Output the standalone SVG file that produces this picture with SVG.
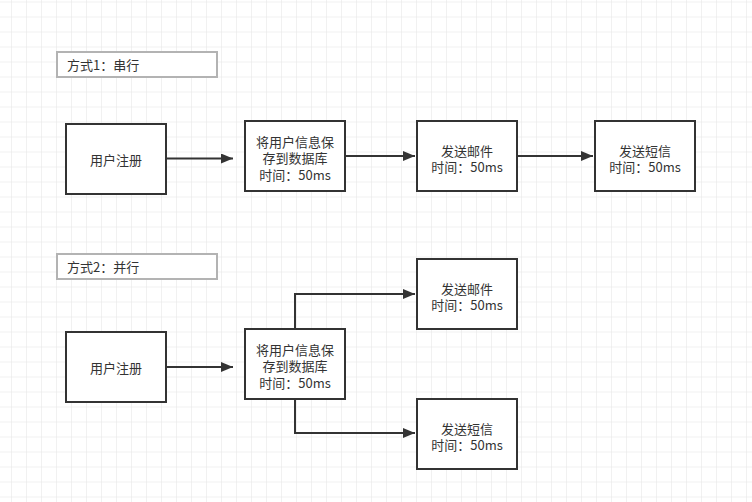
<svg xmlns="http://www.w3.org/2000/svg" width="752" height="502" viewBox="0 0 752 502">
<defs>
<pattern id="grid" x="11" y="1.5" width="15" height="15" patternUnits="userSpaceOnUse">
<path d="M0,0 H15 M0,0 V15" fill="none" stroke="#e4e4e4" stroke-width="1"/>
</pattern>
<marker id="arr" markerWidth="12" markerHeight="10" refX="12" refY="5" orient="auto" markerUnits="userSpaceOnUse">
<path d="M0,0 L12,5 L0,10 Z" fill="#333333"/>
</marker>
<style>
.box{fill:#ffffff;stroke:#333333;stroke-width:2}
.lbl{fill:#ffffff;stroke:#b3b3b3;stroke-width:2}
.t{font-family:"Noto Sans CJK SC","Microsoft YaHei",sans-serif;font-size:13px;fill:#333333;text-anchor:middle;dominant-baseline:central}
.tl{font-family:"Noto Sans CJK SC","Microsoft YaHei",sans-serif;font-size:13px;fill:#333333;dominant-baseline:central}
.c{fill:none;stroke:#333333;stroke-width:2;marker-end:url(#arr)}
</style>
</defs>
<rect width="752" height="502" fill="#ffffff"/>
<rect width="752" height="502" fill="url(#grid)"/>

<g id="connectors">
<path class="c" d="M166,158.5 H233"/>
<path class="c" d="M345,156 H415"/>
<path class="c" d="M517,156 H593"/>
<path class="c" d="M166,367 H233"/>
<path class="c" d="M295,329 V294 H415"/>
<path class="c" d="M295,398 V433 H415"/>
</g>

<g id="label1">
<rect class="lbl" x="57" y="52" width="160" height="25"/>
<text class="tl" x="67" y="64.5">方式1：串行</text>
</g>
<g id="n1-reg">
<rect class="box" x="66" y="124" width="100" height="70"/>
<text class="t" x="116" y="159">用户注册</text>
</g>
<g id="n1-db">
<rect class="box" x="245" y="121" width="100" height="70"/>
<text class="t" x="295" y="141">将用户信息保</text>
<text class="t" x="295" y="157.5">存到数据库</text>
<text class="t" x="295" y="174">时间：50ms</text>
</g>
<g id="n1-mail">
<rect class="box" x="417" y="121" width="100" height="70"/>
<text class="t" x="467" y="150">发送邮件</text>
<text class="t" x="467" y="166.5">时间：50ms</text>
</g>
<g id="n1-sms">
<rect class="box" x="595" y="121" width="100" height="70"/>
<text class="t" x="645" y="150">发送短信</text>
<text class="t" x="645" y="166.5">时间：50ms</text>
</g>

<g id="label2">
<rect class="lbl" x="57" y="254" width="160" height="25"/>
<text class="tl" x="67" y="266.5">方式2：并行</text>
</g>
<g id="n2-reg">
<rect class="box" x="66" y="332" width="100" height="70"/>
<text class="t" x="116" y="367">用户注册</text>
</g>
<g id="n2-db">
<rect class="box" x="245" y="329" width="100" height="70"/>
<text class="t" x="295" y="349">将用户信息保</text>
<text class="t" x="295" y="365.5">存到数据库</text>
<text class="t" x="295" y="382">时间：50ms</text>
</g>
<g id="n2-mail">
<rect class="box" x="417" y="259" width="100" height="70"/>
<text class="t" x="467" y="288">发送邮件</text>
<text class="t" x="467" y="304.5">时间：50ms</text>
</g>
<g id="n2-sms">
<rect class="box" x="417" y="399" width="100" height="70"/>
<text class="t" x="467" y="428">发送短信</text>
<text class="t" x="467" y="444.5">时间：50ms</text>
</g>
</svg>
